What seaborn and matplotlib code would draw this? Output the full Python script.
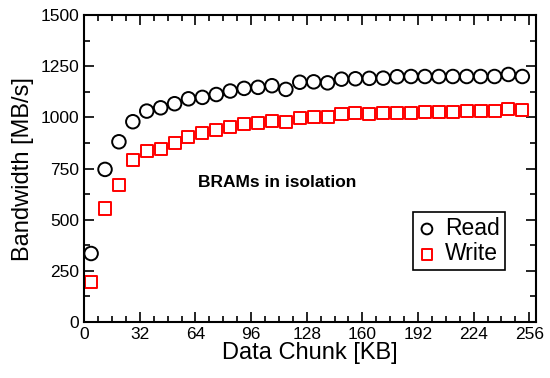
import numpy as np
import pandas as pd
import matplotlib
matplotlib.use("Agg")
import matplotlib.pyplot as plt
import seaborn as sns
from matplotlib.ticker import MultipleLocator

# 数据
chunk_kb = [4, 12, 20, 28, 36, 44, 52, 60, 68, 76, 84, 92, 100, 108, 116, 124,
            132, 140, 148, 156, 164, 172, 180, 188, 196, 204, 212, 220, 228, 236, 244, 252]
read_bw = [335, 746, 881, 979, 1031, 1047, 1067, 1091, 1098, 1112, 1129, 1142, 1147, 1155, 1137, 1172,
           1174, 1169, 1187, 1189, 1191, 1192, 1199, 1200, 1200, 1200, 1200, 1200, 1200, 1200, 1210, 1200]
write_bw = [197, 555, 669, 792, 837, 845, 876, 905, 922, 938, 954, 967, 971, 982, 977, 995,
            1003, 1003, 1015, 1020, 1016, 1021, 1023, 1024, 1026, 1028, 1028, 1031, 1031, 1032, 1041, 1036]

df = pd.DataFrame({"chunk": chunk_kb, "Read": read_bw, "Write": write_bw})

sns.set_style("ticks", {"axes.edgecolor": "black", "text.color": "black",
                        "axes.labelcolor": "black", "xtick.color": "black", "ytick.color": "black"})
plt.rcParams["font.family"] = ["Liberation Sans", "DejaVu Sans"]

fig, ax = plt.subplots(figsize=(5.5, 3.78), dpi=100)

sns.scatterplot(data=df, x="chunk", y="Read", marker="o", s=95, facecolor="none",
                edgecolor="black", linewidth=1.4, ax=ax, label="Read")
sns.scatterplot(data=df, x="chunk", y="Write", marker="s", s=75, facecolor="none",
                edgecolor="#ff0000", linewidth=1.4, ax=ax, label="Write")

ax.set_xlim(0, 260)
ax.set_ylim(0, 1500)
ax.xaxis.set_major_locator(MultipleLocator(32))
ax.xaxis.set_minor_locator(MultipleLocator(8))
ax.yaxis.set_major_locator(MultipleLocator(250))
ax.yaxis.set_minor_locator(MultipleLocator(125))
ax.tick_params(which="both", direction="in", top=True, right=True, labelsize=12.5, width=1.2,
               color="black", labelcolor="black")
ax.tick_params(which="major", length=7)
ax.tick_params(which="minor", length=4)
for s in ax.spines.values():
    s.set_linewidth(1.5)
    s.set_color("black")

ax.set_xlabel("Data Chunk [KB]", fontsize=17, labelpad=0, color="black")
ax.set_ylabel("Bandwidth [MB/s]", fontsize=17, labelpad=5, color="black")

ax.text(111, 680, "BRAMs in isolation", fontsize=12.5, fontweight="bold", ha="center", va="center",
        color="black")

leg = ax.legend(loc="lower right", bbox_to_anchor=(0.93, 0.17), fontsize=16.5, frameon=True,
                fancybox=False, edgecolor="black", framealpha=1, handlelength=0.8,
                handletextpad=0.4, borderpad=0.2, labelspacing=0.1, borderaxespad=0)
leg.get_frame().set_linewidth(1.2)
for t in leg.get_texts():
    t.set_color("black")
for h in leg.legend_handles:
    h.set_sizes([60])

fig.subplots_adjust(left=0.153, right=0.975, top=0.96, bottom=0.148)
fig.savefig("out.png", dpi=100)
